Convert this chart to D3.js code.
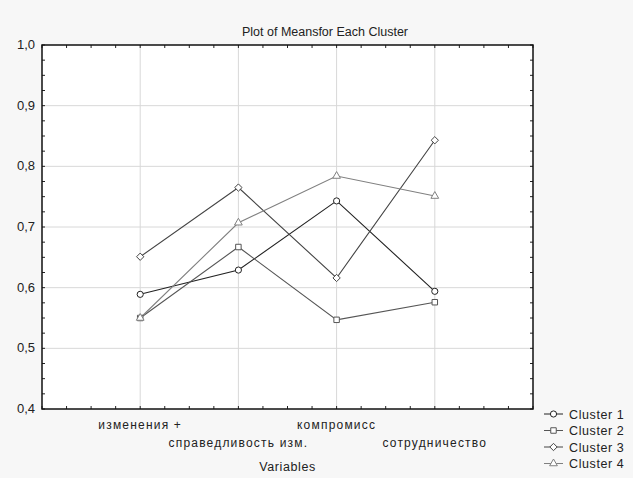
<!DOCTYPE html>
<html>
<head>
<meta charset="utf-8">
<script src="https://cdn.jsdelivr.net/npm/d3@7/dist/d3.min.js"></script>
<style>
  body { margin: 0; background: #f7f7f7; }
  svg { display: block; font-family: "Liberation Sans", Arial, sans-serif; }
</style>
</head>
<body>
<svg id="chart" width="633" height="478"></svg>
<script>
var variables = ['изменения +', 'справедливость изм.', 'компромисс', 'сотрудничество'];
var clusterNames = ['Cluster 1', 'Cluster 2', 'Cluster 3', 'Cluster 4'];
var cluster1 = [0.589, 0.629, 0.743, 0.594];
var cluster2 = [0.550, 0.667, 0.547, 0.576];
var cluster3 = [0.651, 0.765, 0.616, 0.843];
var cluster4 = [0.550, 0.707, 0.784, 0.751];
var yTicks = [0.4, 0.5, 0.6, 0.7, 0.8, 0.9, 1.0];

(function() {
  var series = [cluster1, cluster2, cluster3, cluster4];
  var colors = ['#222', '#555', '#444', '#808080'];
  var shapes = [d3.symbolCircle, d3.symbolSquare, d3.symbolDiamond2, d3.symbolTriangle];
  var sizes = [30, 30, 34, 26];

  var svg = d3.select('#chart');
  var pLeft = 42, pRight = 533, pTop = 45, pBottom = 409;

  var x = d3.scaleLinear().domain([0, 5]).range([pLeft, pRight]);
  var y = d3.scaleLinear().domain([0.4, 1.0]).range([pBottom, pTop]);

  /* plot area */
  svg.append('rect')
    .attr('x', pLeft).attr('y', pTop)
    .attr('width', pRight - pLeft).attr('height', pBottom - pTop)
    .attr('fill', '#fff');

  /* grid */
  svg.append('g').selectAll('line')
    .data(yTicks.slice(1, -1))
    .enter().append('line')
      .attr('x1', pLeft).attr('x2', pRight)
      .attr('y1', function(d) { return y(d); })
      .attr('y2', function(d) { return y(d); })
      .attr('stroke', '#d8d8d8');
  svg.append('g').selectAll('line')
    .data(d3.range(1, 5))
    .enter().append('line')
      .attr('y1', pTop).attr('y2', pBottom)
      .attr('x1', function(d) { return x(d); })
      .attr('x2', function(d) { return x(d); })
      .attr('stroke', '#d8d8d8');

  /* inward ticks on all sides */
  var minorY = d3.range(0.4, 1.0001, 0.025);
  var minorX = d3.range(0, 5.0001, 0.25);
  var ticks = svg.append('g').attr('stroke', '#222');
  minorY.forEach(function(v) {
    ticks.append('line').attr('x1', pLeft).attr('x2', pLeft + 3)
      .attr('y1', y(v)).attr('y2', y(v));
    ticks.append('line').attr('x1', pRight).attr('x2', pRight - 3)
      .attr('y1', y(v)).attr('y2', y(v));
  });
  minorX.forEach(function(v) {
    ticks.append('line').attr('y1', pBottom).attr('y2', pBottom - 3)
      .attr('x1', x(v)).attr('x2', x(v));
    ticks.append('line').attr('y1', pTop).attr('y2', pTop + 3)
      .attr('x1', x(v)).attr('x2', x(v));
  });

  /* frame */
  svg.append('rect')
    .attr('x', pLeft).attr('y', pTop)
    .attr('width', pRight - pLeft).attr('height', pBottom - pTop)
    .attr('fill', 'none').attr('stroke', '#111').attr('stroke-width', 1.5);

  /* y labels */
  svg.append('g').selectAll('text')
    .data(yTicks)
    .enter().append('text')
      .attr('x', 35).attr('y', function(d) { return y(d) + 4; })
      .attr('text-anchor', 'end')
      .attr('font-size', 13)
      .attr('fill', '#222')
      .text(function(d) { return d3.format('.1f')(d).replace('.', ','); });

  /* x labels */
  svg.append('g').selectAll('text')
    .data(variables)
    .enter().append('text')
      .attr('x', function(d, i) { return x(i + 1); })
      .attr('y', function(d, i) { return i % 2 ? 447 : 429; })
      .attr('text-anchor', 'middle')
      .attr('font-size', 12)
      .attr('letter-spacing', 1.2)
      .attr('fill', '#222')
      .text(function(d) { return d; });

  svg.append('text')
    .attr('x', (pLeft + pRight) / 2).attr('y', 471)
    .attr('text-anchor', 'middle').attr('font-size', 12.5)
    .attr('letter-spacing', 0.6)
    .attr('fill', '#222').text('Variables');

  svg.append('text')
    .attr('x', 325).attr('y', 36)
    .attr('text-anchor', 'middle').attr('font-size', 12.5)
    .attr('fill', '#222').text('Plot of Meansfor Each Cluster');

  /* series */
  var line = d3.line()
    .x(function(d, i) { return x(i + 1); })
    .y(function(d) { return y(d); });

  series.forEach(function(vals, k) {
    svg.append('path')
      .datum(vals)
      .attr('d', line)
      .attr('fill', 'none')
      .attr('stroke', colors[k])
      .attr('stroke-width', 1.1);
  });
  series.forEach(function(vals, k) {
    svg.append('g').selectAll('path')
      .data(vals)
      .enter().append('path')
        .attr('transform', function(d, i) { return 'translate(' + x(i + 1) + ',' + y(d) + ')'; })
        .attr('d', d3.symbol().type(shapes[k]).size(sizes[k]))
        .attr('fill', '#fff')
        .attr('stroke', colors[k])
        .attr('stroke-width', 1);
  });

  /* legend */
  var legend = svg.append('g').selectAll('g')
    .data(clusterNames)
    .enter().append('g')
      .attr('transform', function(d, i) { return 'translate(544,' + (414 + i * 16.5) + ')'; });
  legend.append('line')
    .attr('x1', 0).attr('x2', 19)
    .attr('stroke', function(d, i) { return colors[i]; });
  legend.append('path')
    .attr('transform', 'translate(9.5,0)')
    .attr('d', function(d, i) { return d3.symbol().type(shapes[i]).size(sizes[i])(); })
    .attr('fill', '#fff')
    .attr('stroke', function(d, i) { return colors[i]; });
  legend.append('text')
    .attr('x', 25).attr('y', 4.5)
    .attr('font-size', 12.5)
    .attr('letter-spacing', 0.6)
    .attr('fill', '#222')
    .text(function(d) { return d; });
})();
</script>
</body>
</html>
